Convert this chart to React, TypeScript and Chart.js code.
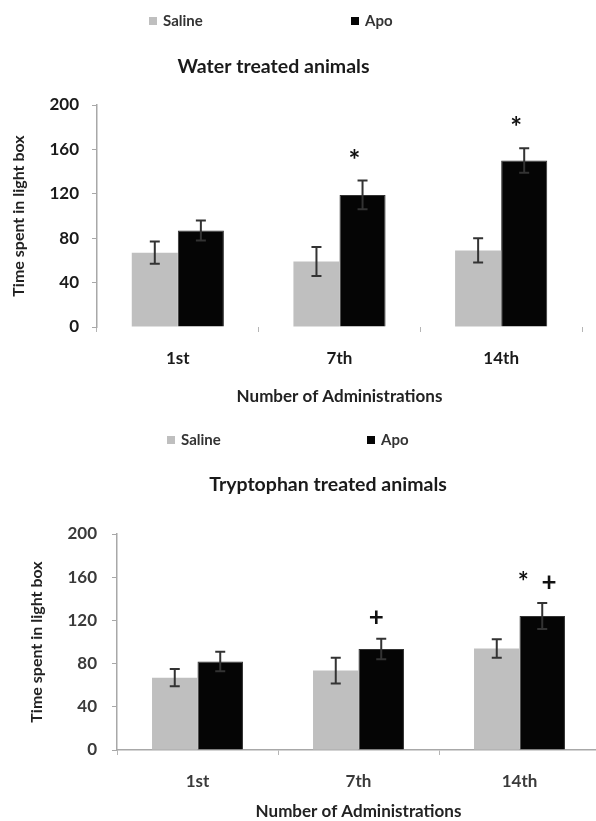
import React, { useEffect, useRef } from "react";
import { Chart, registerables } from "chart.js";

Chart.register(...registerables);

const categories = ["1st", "7th", "14th"];
const seriesNames = ["Saline", "Apo"];
const seriesColors = ["#BFBFBF", "#050505"];

const waterSaline = [67, 59, 69];
const waterSalineErr = [10, 13, 11];
const waterApo = [87, 119, 150];
const waterApoErr = [9, 13, 11];
const waterMarks = ["", "*", "*"];

const tryptSaline = [67, 73.5, 94];
const tryptSalineErr = [8, 12, 8.5];
const tryptApo = [82, 93.5, 124];
const tryptApoErr = [9, 9.5, 12];
const tryptMarks = ["", "+", "*  +"];

const yTicks = [0, 40, 80, 120, 160, 200];
const chartTitles = ["Water treated animals", "Tryptophan treated animals"];
const xTitle = "Number of Administrations";
const yTitle = "Time spent in light box";

const FONT = "Lato";

const headerPlugin = {
  id: "header",
  afterDraw(chart: any, _args: any, opts: any) {
    const ctx = chart.ctx;
    ctx.save();
    ctx.font = `bold ${opts.legendSize}px ${FONT}`;
    ctx.textBaseline = "middle";
    ctx.textAlign = "left";
    opts.legendX.forEach((x: number, i: number) => {
      ctx.fillStyle = seriesColors[i];
      ctx.fillRect(x, opts.legendY - 4, 8, 8);
      ctx.fillStyle = "#333";
      ctx.fillText(seriesNames[i], x + 14, opts.legendY);
    });
    ctx.font = `bold ${opts.titleSize}px ${FONT}`;
    ctx.textAlign = "center";
    ctx.fillStyle = "#1a1a1a";
    ctx.fillText(opts.title, opts.titleX, opts.titleY);
    ctx.restore();
  },
};

const errorBarPlugin = {
  id: "errorBars",
  afterDatasetsDraw(chart: any, _args: any, opts: any) {
    const ctx = chart.ctx;
    const yScale = chart.scales.y;
    ctx.save();
    chart.data.datasets.forEach((ds: any, d: number) => {
      const meta = chart.getDatasetMeta(d);
      meta.data.forEach((bar: any, i: number) => {
        const v = ds.data[i];
        const e = ds.errors[i];
        const yTop = yScale.getPixelForValue(v + e);
        const yBot = yScale.getPixelForValue(v - e);
        const x = bar.x;
        ctx.strokeStyle = "#333";
        ctx.lineWidth = 2;
        ctx.beginPath();
        ctx.moveTo(x, yTop);
        ctx.lineTo(x, yBot);
        ctx.moveTo(x - 5, yTop);
        ctx.lineTo(x + 5, yTop);
        ctx.moveTo(x - 5, yBot);
        ctx.lineTo(x + 5, yBot);
        ctx.stroke();
        const mark = ds.marks ? ds.marks[i] : "";
        if (mark) {
          ctx.fillStyle = "#111";
          ctx.font = `bold ${opts.markSize}px ${FONT}`;
          ctx.textAlign = "center";
          ctx.textBaseline = "middle";
          ctx.fillText(mark, x + opts.markDx, yTop - opts.markGap);
        }
      });
    });
    ctx.restore();
  },
};

function makeConfig(p: any) {
  return {
    type: "bar",
    data: {
      labels: categories,
      datasets: [
        {
          label: seriesNames[0],
          data: p.saline,
          errors: p.salineErr,
          backgroundColor: seriesColors[0],
          borderWidth: 0,
          categoryPercentage: p.catPct,
          barPercentage: 1,
        },
        {
          label: seriesNames[1],
          data: p.apo,
          errors: p.apoErr,
          marks: p.marks,
          backgroundColor: seriesColors[1],
          borderColor: "#333",
          borderWidth: 1,
          categoryPercentage: p.catPct,
          barPercentage: 1,
        },
      ],
    },
    options: {
      responsive: false,
      animation: false,
      layout: { padding: p.padding },
      plugins: {
        legend: { display: false },
        title: { display: false },
        tooltip: { enabled: false },
        header: p.header,
        errorBars: p.errorBars,
      },
      scales: {
        x: {
          afterFit: (s: any) => {
            s.height = p.xHeight;
          },
          grid: {
            drawOnChartArea: false,
            drawTicks: true,
            tickLength: 5,
            color: "#b5b5b5",
            offset: true,
          },
          border: { display: p.xBorder, color: "#a8a8a8", width: 1.5 },
          ticks: {
            padding: p.xTickPad,
            color: p.tickColor,
            font: { family: FONT, size: 17, weight: "bold", lineHeight: 1.2 },
          },
          title: {
            display: true,
            text: xTitle,
            color: "#222",
            font: { family: FONT, size: 17, weight: "bold", lineHeight: 1.2 },
            padding: { top: 0, bottom: p.xTitlePad },
          },
        },
        y: {
          min: yTicks[0],
          max: yTicks[yTicks.length - 1],
          afterBuildTicks: (s: any) => {
            s.ticks = yTicks.map((v) => ({ value: v }));
          },
          afterFit: (s: any) => {
            s.width = p.yWidth;
          },
          grid: {
            drawOnChartArea: false,
            drawTicks: true,
            tickLength: 5,
            color: "#a8a8a8",
          },
          border: { display: true, color: "#a8a8a8", width: 1.5 },
          ticks: {
            padding: p.yTickPad,
            color: p.tickColor,
            font: { family: FONT, size: 17, weight: "bold", lineHeight: 1.2 },
          },
          title: {
            display: true,
            text: yTitle,
            color: "#222",
            font: { family: FONT, size: 16, weight: "bold", lineHeight: 1.2 },
            padding: { top: p.yTitlePad, bottom: 0 },
          },
        },
      },
    },
    plugins: [headerPlugin, errorBarPlugin],
  } as any;
}

const topParams = {
  saline: waterSaline,
  salineErr: waterSalineErr,
  apo: waterApo,
  apoErr: waterApoErr,
  marks: waterMarks,
  catPct: 0.57,
  padding: { top: 105, right: 14, left: 0, bottom: 0 },
  xHeight: 83,
  xBorder: false,
  xTickPad: 16.8,
  xTitlePad: 2.8,
  yWidth: 97,
  yTickPad: 13,
  yTitlePad: 9.4,
  tickColor: "#1a1a1a",
  header: {
    legendX: [149, 351],
    legendY: 21,
    legendSize: 15,
    title: chartTitles[0],
    titleX: 273.5,
    titleY: 67,
    titleSize: 19.5,
  },
  errorBars: { markSize: 28, markGap: 20, markDx: -8 },
};

const bottomParams = {
  saline: tryptSaline,
  salineErr: tryptSalineErr,
  apo: tryptApo,
  apoErr: tryptApoErr,
  marks: tryptMarks,
  catPct: 0.565,
  padding: { top: 124, right: 4, left: 0, bottom: 0 },
  xHeight: 73,
  xBorder: true,
  xTickPad: 16.8,
  xTitlePad: 0.8,
  yWidth: 117,
  yTickPad: 15,
  yTitlePad: 27.4,
  tickColor: "#3a3a3a",
  header: {
    legendX: [167, 367],
    legendY: 30,
    legendSize: 15,
    title: chartTitles[1],
    titleX: 328,
    titleY: 75,
    titleSize: 19.5,
  },
  errorBars: { markSize: 26, markGap: 21, markDx: -5 },
};

function BarPanel({ params, width, height, top }: any) {
  const ref = useRef<HTMLCanvasElement>(null);
  useEffect(() => {
    if (!ref.current) return;
    const chart = new Chart(ref.current, makeConfig(params));
    return () => chart.destroy();
  }, []);
  return (
    <canvas
      ref={ref}
      width={width}
      height={height}
      style={{ position: "absolute", left: 0, top, width, height }}
    />
  );
}

export default function App() {
  return (
    <div
      style={{
        position: "fixed",
        left: 0,
        top: 0,
        width: 596,
        height: 821,
        overflow: "hidden",
        background: "#fff",
      }}
    >
      <BarPanel params={topParams} width={596} height={410} top={0} />
      <BarPanel params={bottomParams} width={604} height={413} top={410} />
    </div>
  );
}
